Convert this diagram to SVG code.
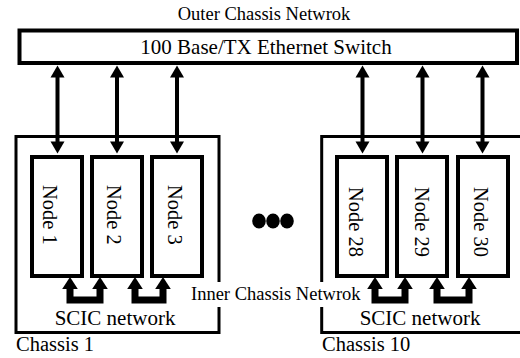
<svg xmlns="http://www.w3.org/2000/svg" xmlns:xlink="http://www.w3.org/1999/xlink" width="520" height="358" viewBox="0 0 520 358">
<style>
.box{fill:#fff;stroke:#000;stroke-width:4}
.chassis{fill:none;stroke:#000;stroke-width:3}
.shaft{stroke:#000;stroke-width:4;fill:none}
.u{stroke:#000;stroke-width:7;fill:none;stroke-linejoin:miter}
.nl{font-size:20.5px}
</style>
<defs>
<path id="vhead" d="M0,0 L-7,12 L7,12 Z" fill="#000"/>
<path id="shead" d="M0,0 L-7.8,12 L7.8,12 Z" fill="#000"/>
</defs>
<rect width="520" height="358" fill="#fff"/>
<g font-family="Liberation Serif, DejaVu Serif, serif" fill="#000">
<text x="264" y="20" font-size="18.5" text-anchor="middle">Outer Chassis Netwrok</text>
<g id="switch">
<rect class="box" x="19.5" y="30.5" width="497.5" height="32.5"/>
<text x="266" y="54" font-size="21" text-anchor="middle">100 Base/TX Ethernet Switch</text>
</g>
<g id="chassis1">
<rect class="chassis" x="16" y="136.5" width="203" height="196"/>
<text x="16" y="351" font-size="20.5">Chassis 1</text>
</g>
<g id="chassis10">
<rect class="chassis" x="321.7" y="136.5" width="260" height="196"/>
<text x="322" y="351" font-size="20.5">Chassis 10</text>
</g>
<g id="node1"><rect class="box" x="32" y="157" width="50" height="119"/><text class="nl" transform="translate(43,185) rotate(90)">Node 1</text></g>
<g id="node2"><rect class="box" x="92" y="157" width="50" height="119"/><text class="nl" transform="translate(106.5,185) rotate(90)">Node 2</text></g>
<g id="node3"><rect class="box" x="152" y="157" width="50" height="119"/><text class="nl" transform="translate(167.5,185) rotate(90)">Node 3</text></g>
<g id="node28"><rect class="box" x="337" y="157" width="50" height="119"/><text class="nl" transform="translate(348.5,187) rotate(90)">Node 28</text></g>
<g id="node29"><rect class="box" x="397" y="157" width="50" height="119"/><text class="nl" transform="translate(414.5,187) rotate(90)">Node 29</text></g>
<g id="node30"><rect class="box" x="458" y="157" width="50" height="119"/><text class="nl" transform="translate(474,187) rotate(90)">Node 30</text></g>
<g id="ellipsis">
<ellipse cx="259" cy="221" rx="6.8" ry="7.5"/>
<ellipse cx="273" cy="221" rx="6.8" ry="7.5"/>
<ellipse cx="287" cy="221" rx="6.8" ry="7.5"/>
</g>
<g id="connectors">
<path class="shaft" d="M57.5,76 V142 M117,76 V142 M177,76 V142 M362.5,76 V142 M422.5,76 V142 M482.5,76 V142"/>
<use xlink:href="#vhead" x="57.5" y="65.5"/>
<use xlink:href="#vhead" x="117" y="65.5"/>
<use xlink:href="#vhead" x="177" y="65.5"/>
<use xlink:href="#vhead" x="362.5" y="65.5"/>
<use xlink:href="#vhead" x="422.5" y="65.5"/>
<use xlink:href="#vhead" x="482.5" y="65.5"/>
<use xlink:href="#vhead" transform="translate(57.5,153.5) rotate(180)"/>
<use xlink:href="#vhead" transform="translate(117,153.5) rotate(180)"/>
<use xlink:href="#vhead" transform="translate(177,153.5) rotate(180)"/>
<use xlink:href="#vhead" transform="translate(362.5,153.5) rotate(180)"/>
<use xlink:href="#vhead" transform="translate(422.5,153.5) rotate(180)"/>
<use xlink:href="#vhead" transform="translate(482.5,153.5) rotate(180)"/>
<path class="u" d="M70,288 V300 H100 V288"/>
<path class="u" d="M135,288 V300 H163 V288"/>
<path class="u" d="M375,288 V300 H405 V288"/>
<path class="u" d="M437,288 V300 H469 V288"/>
<use xlink:href="#shead" x="70" y="277"/>
<use xlink:href="#shead" x="100" y="277"/>
<use xlink:href="#shead" x="135" y="277"/>
<use xlink:href="#shead" x="163" y="277"/>
<use xlink:href="#shead" x="375" y="277"/>
<use xlink:href="#shead" x="405" y="277"/>
<use xlink:href="#shead" x="437" y="277"/>
<use xlink:href="#shead" x="469" y="277"/>
</g>
<text x="115" y="325" font-size="21" text-anchor="middle">SCIC network</text>
<text x="420" y="325" font-size="21" text-anchor="middle">SCIC network</text>
<rect x="188" y="282" width="175" height="25" fill="#fff"/>
<text x="191" y="300" font-size="18.5">Inner Chassis Netwrok</text>
</g>
</svg>
